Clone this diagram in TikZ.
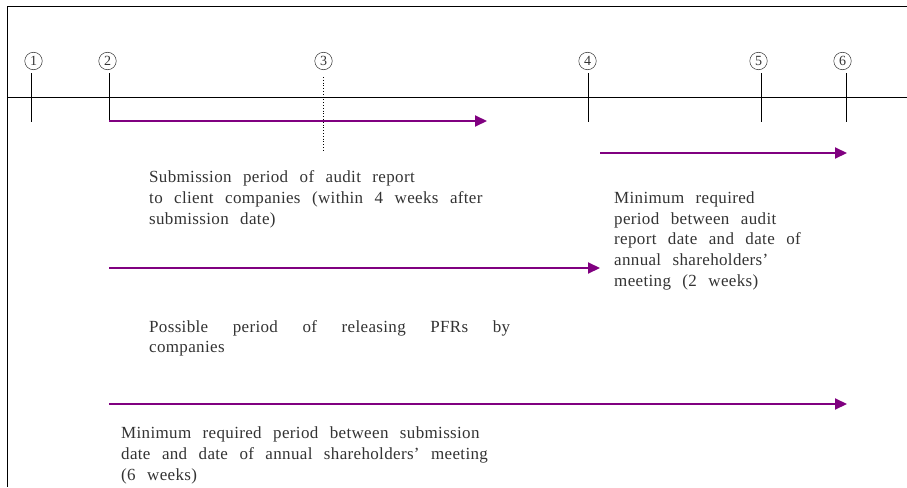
\documentclass[tikz,border=0pt]{standalone}
\usepackage{fontspec}
\setmainfont[LetterSpace=2,WordSpace=2.5]{Liberation Serif}
\usetikzlibrary{arrows.meta}
\definecolor{arrpurple}{HTML}{800080}
\definecolor{txtgray}{HTML}{333333}
\tikzset{
  frameline/.style={black, line width=0.9pt},
  tickline/.style={black, line width=0.9pt},
  arr/.style={arrpurple, line width=2pt, -{Triangle[length=12pt,width=11pt]}},
  circlbl/.style={circle, draw=txtgray, line width=0.5pt, minimum size=17.5pt, inner sep=0pt,
    font=\fontsize{14}{14}\selectfont, text=txtgray},
  desc/.style={font=\fontsize{17}{20.6}\selectfont, text=txtgray, align=left, inner sep=0pt, anchor=base west},
}
\begin{document}
\begin{tikzpicture}[x=1pt,y=-1pt]
\useasboundingbox (0,0) rectangle (907,487);
% frame
\coordinate (ftl) at (7,6);
\coordinate (ftr) at (907,6);
\coordinate (fbl) at (7,487);
\draw[frameline] (ftr) -- (ftl) -- (fbl);
% timeline
\coordinate (tlL) at (7,97);
\coordinate (tlR) at (907,97);
\draw[frameline] (tlL) -- (tlR);
% labels
\node[circlbl] (c1) at (33.5,61) {1};
\node[circlbl] (c2) at (107.5,61) {2};
\node[circlbl] (c3) at (323.5,61) {3};
\node[circlbl] (c4) at (587.5,61) {4};
\node[circlbl] (c5) at (758.5,61) {5};
\node[circlbl] (c6) at (842.5,61) {6};
% ticks
\coordinate (k1a) at (31,73); \coordinate (k1b) at (31,122);
\coordinate (k2a) at (109,73); \coordinate (k2b) at (109,121);
\coordinate (k3a) at (323,77); \coordinate (k3b) at (323,151);
\coordinate (k4a) at (588,73); \coordinate (k4b) at (588,122);
\coordinate (k5a) at (761,73); \coordinate (k5b) at (761,122);
\coordinate (k6a) at (846,73); \coordinate (k6b) at (846,122);
\draw[tickline] (k1a) -- (k1b);
\draw[tickline] (k2a) -- (k2b);
\draw[black, line width=0.8pt, dotted] (k3a) -- (k3b);
\draw[tickline] (k4a) -- (k4b);
\draw[tickline] (k5a) -- (k5b);
\draw[tickline] (k6a) -- (k6b);
% arrows
\coordinate (a1s) at (109,121); \coordinate (a1e) at (487,121);
\coordinate (a2s) at (600,153); \coordinate (a2e) at (847,153);
\coordinate (a3s) at (109,268); \coordinate (a3e) at (600,268);
\coordinate (a4s) at (109,404); \coordinate (a4e) at (847,404);
\draw[arr] (a1s) -- (a1e);
\draw[arr] (a2s) -- (a2e);
\draw[arr] (a3s) -- (a3e);
\draw[arr] (a4s) -- (a4e);
% texts (base anchor = baseline of last line)
\node[desc] (d1) at (149,224) {Submission period of audit report\\to client companies (within 4 weeks after\\submission date)};
\node[desc] (d2) at (614,286) {Minimum required\\period between audit\\report date and date of\\annual shareholders’\\meeting (2 weeks)};
\node[desc] (d3) at (149,332) {\parbox[t]{361pt}{Possible period of releasing PFRs by\linebreak companies}};
\node[desc] (d4) at (121,480) {Minimum required period between submission\\date and date of annual shareholders’ meeting\\(6 weeks)};
\end{tikzpicture}
\end{document}
